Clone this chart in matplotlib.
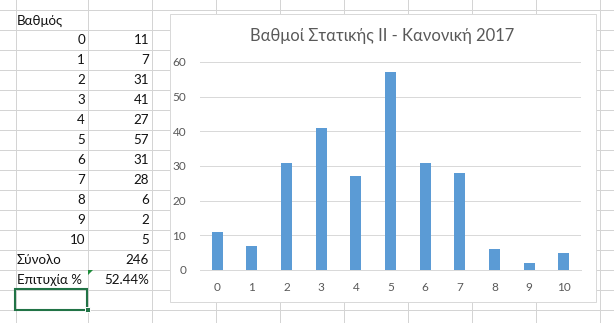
import matplotlib
matplotlib.use("Agg")
import matplotlib.pyplot as plt
from matplotlib.patches import Rectangle, Polygon

plt.rcParams['font.family'] = ['Lato', 'Noto Sans', 'DejaVu Sans']

# ---- data ----
grades = [0, 1, 2, 3, 4, 5, 6, 7, 8, 9, 10]
counts = [11, 7, 31, 41, 27, 57, 31, 28, 6, 2, 5]
header = "Βαθμός"
total_label = "Σύνολο"
total_value = 246
success_label = "Επιτυχία %"
success_value = "52.44%"
title = "Βαθμοί Στατικής ΙΙ - Κανονική 2017"
yticks = [0, 10, 20, 30, 40, 50, 60]

W, H = 614, 323
fig = plt.figure(figsize=(W / 100, H / 100), dpi=100)
fig.patch.set_facecolor('white')

# background (spreadsheet) axes in pixel coordinates
bg = fig.add_axes([0, 0, 1, 1])
bg.set_xlim(0, W)
bg.set_ylim(H, 0)
bg.axis('off')

grid_c = '#d4d4d4'
lw = 0.72
col_lines = [15.5, 87.5, 151.5, 215.5, 279.5, 343.5, 407.5, 471.5, 535.5, 599.5]
row_lines = [9.5 + 20 * k for k in range(16)]
for x in col_lines:
    bg.plot([x, x], [0, H], color=grid_c, lw=lw, zorder=1)
for y in row_lines:
    bg.plot([0, W], [y, y], color=grid_c, lw=lw, zorder=1)

cell_fs = 9.6
txt_c = '#111111'
def rowy(i):
    return 19.5 + 20 * i + 1

bg.text(17, rowy(0), header, ha='left', va='center', fontsize=cell_fs, color=txt_c, zorder=2)
for i, (g, c) in enumerate(zip(grades, counts)):
    bg.text(85, rowy(i + 1), str(g), ha='right', va='center', fontsize=cell_fs, color=txt_c, zorder=2)
    bg.text(149, rowy(i + 1), str(c), ha='right', va='center', fontsize=cell_fs, color=txt_c, zorder=2)
bg.text(17, rowy(12), total_label, ha='left', va='center', fontsize=cell_fs, color=txt_c, zorder=2)
bg.text(149, rowy(12), str(total_value), ha='right', va='center', fontsize=cell_fs, color=txt_c, zorder=2)
bg.text(17, rowy(13), success_label, ha='left', va='center', fontsize=cell_fs, color=txt_c, zorder=2)
bg.text(149, rowy(13), success_value, ha='right', va='center', fontsize=cell_fs, color=txt_c, zorder=2)

# green error indicator triangle
green = '#217346'
bg.add_patch(Polygon([[88, 270], [93, 270], [88, 275]], closed=True, facecolor='#1e8c3a', edgecolor='none', zorder=3))
# selected cell
bg.add_patch(Rectangle((14.5, 289), 72.5, 20.5, facecolor='none', edgecolor=green, lw=1.5, zorder=3))
bg.add_patch(Rectangle((85, 306.5), 5, 5, facecolor=green, edgecolor='white', lw=0.7, zorder=4))

# chart frame
bg.add_patch(Rectangle((169.5, 13.5), 426, 288, facecolor='white', edgecolor='#d9d9d9', lw=lw, zorder=5))
bg.text(382, 36, title, ha='center', va='center', fontsize=11.9, color='#595959', zorder=6)

# chart axes
left, right, top, bottom = 200, 581, 62, 270
ax = fig.add_axes([left / W, 1 - bottom / H, (right - left) / W, (bottom - top) / H])
ax.set_zorder(10)
ax.patch.set_alpha(0)
ax.bar(grades, counts, width=0.32, color='#5B9BD5', zorder=3)
ax.set_xlim(-0.5, 10.5)
ax.set_ylim(0, 60)
ax.set_yticks(yticks)
ax.set_xticks(grades)
ax.set_xticklabels([str(g) for g in grades])
ax.yaxis.grid(True, color='#d9d9d9', lw=lw, zorder=0)
ax.set_axisbelow(True)
for s in ['top', 'right', 'left']:
    ax.spines[s].set_visible(False)
ax.spines['bottom'].set_color('#d9d9d9')
ax.spines['bottom'].set_linewidth(lw)
ax.tick_params(axis='both', length=0, colors='#595959', labelsize=8.5)
ax.tick_params(axis='x', pad=8.5)
ax.tick_params(axis='y', pad=10)

fig.savefig('out.png', dpi=100)
